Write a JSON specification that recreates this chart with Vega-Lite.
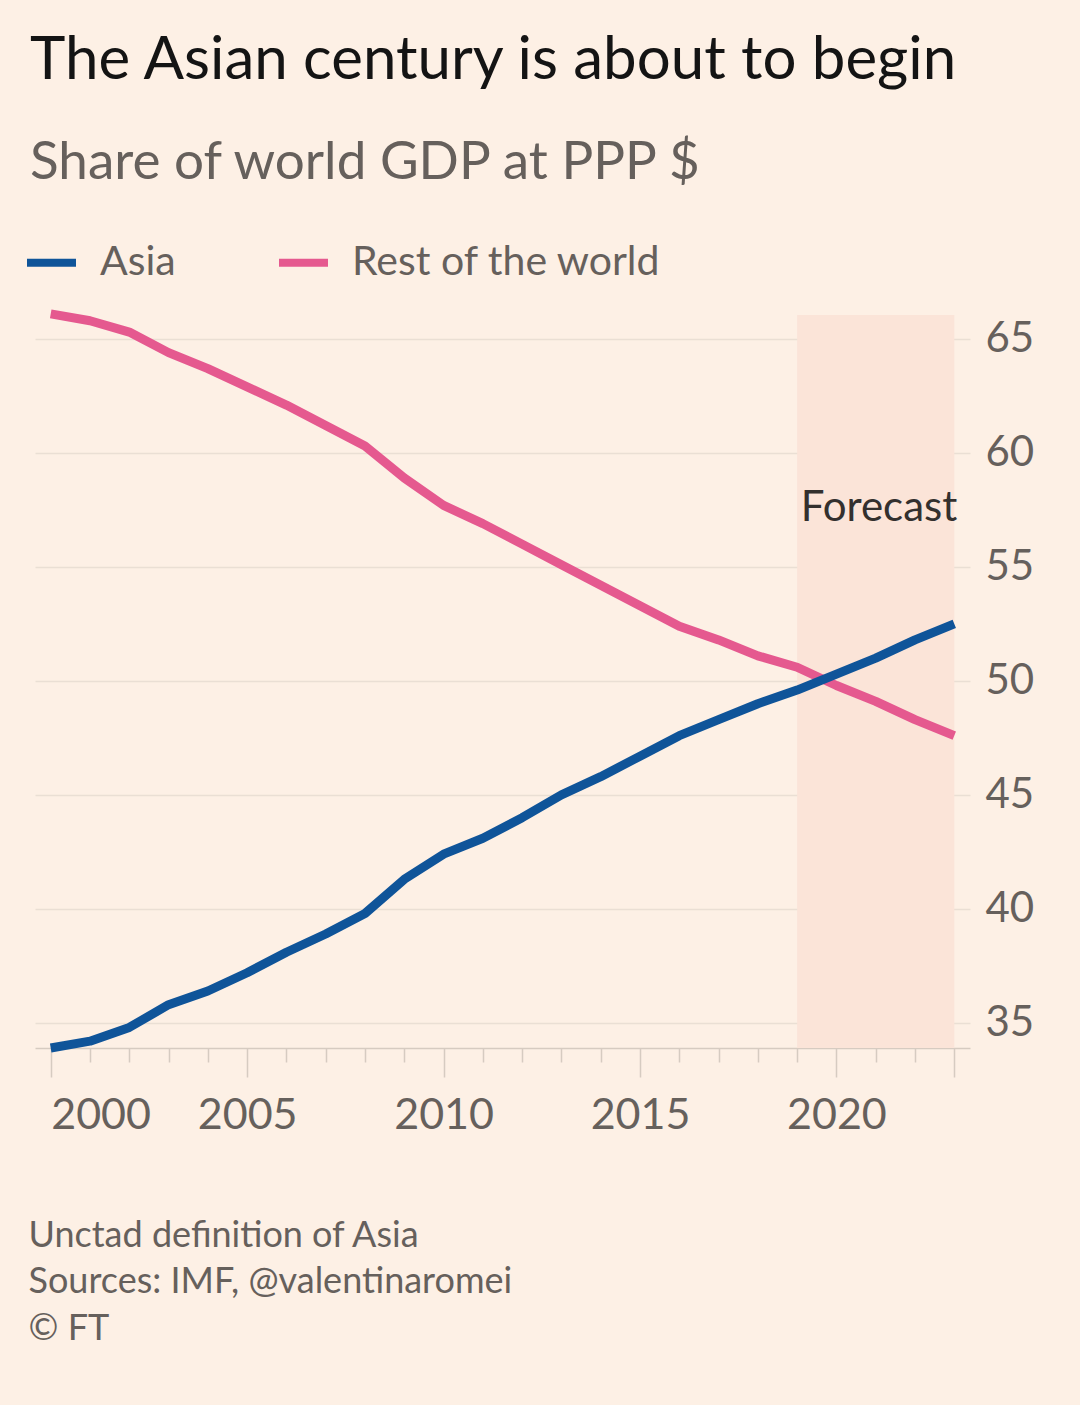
{
  "$schema": "https://vega.github.io/schema/vega-lite/v6.json",
  "width": 935,
  "height": 733,
  "autosize": "none",
  "padding": {"left": 35, "top": 315, "right": 110, "bottom": 357},
  "background": "#FDF0E5",
  "config": {
    "view": {"stroke": null},
    "font": "Lato",
    "text": {"font": "Lato"}
  },
  "title": {
    "text": "The Asian century is about to begin",
    "subtitle": "Share of world GDP at PPP $",
    "anchor": "start",
    "frame": "group",
    "dx": -5,
    "offset": 43,
    "font": "Lato",
    "fontSize": 60,
    "fontWeight": "normal",
    "color": "#141414",
    "subtitleFont": "Lato",
    "subtitleFontSize": 53,
    "subtitleColor": "#66605C",
    "subtitlePadding": 45
  },
  "datasets": {
    "series": [
      {"year": 2000, "region": "Rest of the world", "value": 66.1},
      {"year": 2001, "region": "Rest of the world", "value": 65.8},
      {"year": 2002, "region": "Rest of the world", "value": 65.3},
      {"year": 2003, "region": "Rest of the world", "value": 64.4},
      {"year": 2004, "region": "Rest of the world", "value": 63.7},
      {"year": 2005, "region": "Rest of the world", "value": 62.9},
      {"year": 2006, "region": "Rest of the world", "value": 62.1},
      {"year": 2007, "region": "Rest of the world", "value": 61.2},
      {"year": 2008, "region": "Rest of the world", "value": 60.3},
      {"year": 2009, "region": "Rest of the world", "value": 58.9},
      {"year": 2010, "region": "Rest of the world", "value": 57.7},
      {"year": 2011, "region": "Rest of the world", "value": 56.9},
      {"year": 2012, "region": "Rest of the world", "value": 56.0},
      {"year": 2013, "region": "Rest of the world", "value": 55.1},
      {"year": 2014, "region": "Rest of the world", "value": 54.2},
      {"year": 2015, "region": "Rest of the world", "value": 53.3},
      {"year": 2016, "region": "Rest of the world", "value": 52.4},
      {"year": 2017, "region": "Rest of the world", "value": 51.8},
      {"year": 2018, "region": "Rest of the world", "value": 51.1},
      {"year": 2019, "region": "Rest of the world", "value": 50.6},
      {"year": 2020, "region": "Rest of the world", "value": 49.8},
      {"year": 2021, "region": "Rest of the world", "value": 49.1},
      {"year": 2022, "region": "Rest of the world", "value": 48.3},
      {"year": 2023, "region": "Rest of the world", "value": 47.6},
      {"year": 2000, "region": "Asia", "value": 33.9},
      {"year": 2001, "region": "Asia", "value": 34.2},
      {"year": 2002, "region": "Asia", "value": 34.8},
      {"year": 2003, "region": "Asia", "value": 35.8},
      {"year": 2004, "region": "Asia", "value": 36.4},
      {"year": 2005, "region": "Asia", "value": 37.2},
      {"year": 2006, "region": "Asia", "value": 38.1},
      {"year": 2007, "region": "Asia", "value": 38.9},
      {"year": 2008, "region": "Asia", "value": 39.8},
      {"year": 2009, "region": "Asia", "value": 41.3},
      {"year": 2010, "region": "Asia", "value": 42.4},
      {"year": 2011, "region": "Asia", "value": 43.1},
      {"year": 2012, "region": "Asia", "value": 44.0},
      {"year": 2013, "region": "Asia", "value": 45.0},
      {"year": 2014, "region": "Asia", "value": 45.8},
      {"year": 2015, "region": "Asia", "value": 46.7},
      {"year": 2016, "region": "Asia", "value": 47.6},
      {"year": 2017, "region": "Asia", "value": 48.3},
      {"year": 2018, "region": "Asia", "value": 49.0},
      {"year": 2019, "region": "Asia", "value": 49.6},
      {"year": 2020, "region": "Asia", "value": 50.3},
      {"year": 2021, "region": "Asia", "value": 51.0},
      {"year": 2022, "region": "Asia", "value": 51.8},
      {"year": 2023, "region": "Asia", "value": 52.5}
    ],
    "forecast": [{"start": 2019, "end": 2023, "label": "Forecast", "labelY": 57.6}]
  },
  "layer": [
    {
      "data": {"name": "forecast"},
      "mark": {"type": "rect", "color": "#FBE4D8"},
      "encoding": {
        "x": {
          "field": "start",
          "type": "quantitative",
          "scale": {"domain": [1999.6, 2023.4], "nice": false, "zero": false},
          "axis": {
            "values": [2000, 2001, 2002, 2003, 2004, 2005, 2006, 2007, 2008, 2009, 2010, 2011, 2012, 2013, 2014, 2015, 2016, 2017, 2018, 2019, 2020, 2021, 2022, 2023],
            "labelExpr": "datum.value % 5 == 0 ? format(datum.value, 'd') : ''",
            "labelAlign": {"expr": "datum.value == 2000 ? 'left' : 'center'"},
            "labelFont": "Lato",
            "labelFontSize": 43,
            "labelColor": "#66605C",
            "labelPadding": 17,
            "labelOverlap": false,
            "labelFlush": false,
            "tickSize": {"expr": "datum.value % 5 == 0 || datum.value == 2023 ? 29 : 14"},
            "tickColor": "#D6CBC1",
            "tickWidth": 1.5,
            "domainColor": "#D6CBC1",
            "domainWidth": 1.5,
            "grid": false,
            "title": ["Unctad definition of Asia", "Sources: IMF, @valentinaromei", "© FT"],
            "titleFont": "Lato",
            "titleFontSize": 36,
            "titleFontWeight": "normal",
            "titleColor": "#66605C",
            "titleAnchor": "start",
            "titleAlign": "left",
            "titleBaseline": "top",
            "titleLineHeight": 46.5,
            "titleX": -7,
            "titleY": 170
          }
        },
        "x2": {"field": "end"}
      }
    },
    {
      "data": {"name": "series"},
      "mark": {"type": "line", "strokeWidth": 9, "strokeCap": "butt", "strokeJoin": "round"},
      "encoding": {
        "x": {"field": "year", "type": "quantitative"},
        "y": {
          "field": "value",
          "type": "quantitative",
          "scale": {"domain": [33.9, 66.05], "nice": false, "zero": false},
          "axis": {
            "orient": "right",
            "values": [35, 40, 45, 50, 55, 60, 65],
            "title": null,
            "domain": false,
            "ticks": false,
            "grid": true,
            "gridColor": "#EADFD4",
            "gridWidth": 1.5,
            "labelFont": "Lato",
            "labelFontSize": 42,
            "labelColor": "#66605C",
            "labelPadding": 15
          }
        },
        "color": {
          "field": "region",
          "type": "nominal",
          "scale": {"domain": ["Asia", "Rest of the world"], "range": ["#0F5499", "#E5598F"]},
          "legend": {
            "title": null,
            "orient": "none",
            "legendX": -12,
            "legendY": -81,
            "direction": "horizontal",
            "symbolType": "stroke",
            "symbolStrokeWidth": 8,
            "symbolSize": 2400,
            "labelFont": "Lato",
            "labelFontSize": 41,
            "labelColor": "#66605C",
            "labelOffset": 20,
            "labelLimit": 600,
            "columnPadding": 87
          }
        }
      }
    },
    {
      "data": {"name": "forecast"},
      "mark": {"type": "text", "align": "right", "baseline": "middle", "dx": 3, "font": "Lato", "fontSize": 42, "color": "#33302E"},
      "encoding": {
        "x": {"field": "end", "type": "quantitative"},
        "y": {"field": "labelY", "type": "quantitative"},
        "text": {"field": "label"}
      }
    }
  ]
}
